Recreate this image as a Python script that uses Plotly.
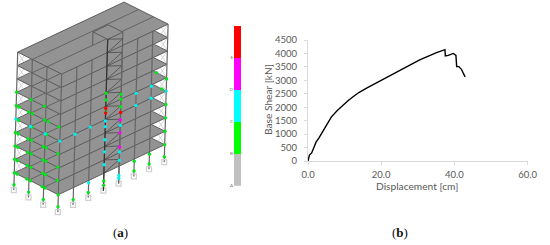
import plotly.graph_objects as go

# pushover curve
displacement = [0.0, 0.1, 0.2, 0.4, 1.0, 1.5, 2.2, 3.0, 4.1, 5.0, 6.4, 8.0, 9.6, 11.0, 12.3, 14.0, 16.0, 20.5, 26.0, 30.5, 35.1,
                37.1, 37.4, 37.5, 38.3, 39.7, 40.4, 40.6, 41.2, 41.9, 42.4, 42.9]
base_shear = [0, 50, 150, 220, 300, 450, 700, 860, 1130, 1340, 1640, 1880, 2090, 2250, 2390, 2555, 2710, 3040, 3450, 3760, 4030,
              4130, 4140, 3910, 3930, 4000, 3930, 3510, 3510, 3410, 3265, 3130]

# hinge state legend
legend_labels = ['A', 'B', 'C', 'D', 'E']
legend_colors = ['#c0c0c0', '#00ff00', '#00ffff', '#ff00ff', '#ff0000']

# frame: 3 bays one way, 7 the other, 10 floors
bays_u = [0, 1, 2, 3]
bays_v = [0, 1, 2, 3, 4, 5, 6, 7]
floors = [0, 1, 2, 3, 4, 5, 6, 7, 8, 9]
foot_level = -1.3
stair_bay = [3, 4]

# hinges as (u, v, level)
green_hinges = [
    (0, 0, 6), (1, 0, 6), (1.9, 0, 6),
    (0, 0, 5), (0.2, 0, 5), (0.85, 0, 5), (1.1, 0, 5), (1.95, 0, 5), (2.2, 0, 5), (2.9, 0, 5),
    (0.2, 0, 4), (1.1, 0, 4), (2.1, 0, 4),
    (0, 0, 3), (0.2, 0, 3), (0.85, 0, 3), (1.1, 0, 3), (1.9, 0, 3), (2.1, 0, 3), (2.9, 0, 3),
    (0, 0, 2), (0.2, 0, 2), (0.85, 0, 2), (1.1, 0, 2), (1.9, 0, 2), (2.1, 0, 2), (2.9, 0, 2),
    (0, 0, 1), (0.2, 0, 1), (0.85, 0, 1), (1.1, 0, 1), (1.9, 0, 1), (2.1, 0, 1), (2.9, 0, 1),
    (0, 0, 0), (0.2, 0, 0), (0.85, 0, 0), (1.1, 0, 0), (1.9, 0, 0), (2.1, 0, 0), (3, 0, 0),
    (3, 3, 5.97), (3, 3, 5.47), (3, 3, 4.55), (3, 3, -0.57),
    (3, 4, 5.36), (3, 4, 5), (3, 4, 4.43),
    (3, 5, -0.17), (3, 6, -0.18), (3, 7, 0), (3, 7, 1), (3, 7, 2), (3, 7, 3), (3, 7, 4.9), (2.3, 7, 5), (2.7, 7, 4),
    (0, 0, -0.9), (1, 0, -0.9), (2, 0, -0.9), (3, 0, -0.9), (3, 1, -0.9), (3, 2, -0.9), (3, 3, -0.9),
    (3, 5, -0.9), (3, 6, -0.9), (3, 7, -0.9),
]
cyan_hinges = [
    (0, 0, 4), (1, 0, 4), (2, 0, 4), (3, 0, 4),
    (3, 1, 3.98), (3, 2, 3.98), (3, 2, -0.17),
    (3, 3, 3.9), (3, 3, 3.48), (3, 3, 2.5), (3, 3, 1.6), (3, 3, 0.64),
    (3, 4, 3.05), (3, 4, 1.05), (3, 4, 0.43), (3, 4, -0.69), (3, 4, -0.9),
    (3, 5, 4), (3, 6, 4), (3, 7, 4), (3, 5, 4.9), (3, 6, 4.9),
]
magenta_hinges = [(3, 4, 3.44), (3, 4, 2.5), (3, 4, 1.43)]
red_hinges = [(3, 3, 4.85), (3, 3, 4.5), (3, 4, 4)]


def project(u, v, level):
    # parallel projection of the frame onto the page
    x = 14.3 + 14.67 * u + 15.2 * v + 0.377 * level
    y = 172.7 + 7.33 * u - 7.14 * v - 13.4 * level
    return x, y


def path(points, color, width, fill=None):
    xy = [project(*p) for p in points]
    return go.Scatter(x=[a for a, b in xy], y=[b for a, b in xy], mode='lines', xaxis='x2', yaxis='y2',
                      line=dict(color=color, width=width), fill='toself' if fill else None, fillcolor=fill,
                      hoverinfo='skip', showlegend=False)


def slab(level, fill='#939393'):
    return path([(0, 0, level), (3, 0, level), (3, 7, level), (0, 7, level), (0, 0, level)], '#555555', 0.9, fill)


def hinges(points, color, size=3.4):
    xy = [project(*p) for p in points]
    return go.Scatter(x=[a for a, b in xy], y=[b for a, b in xy], mode='markers', xaxis='x2', yaxis='y2',
                      marker=dict(color=color, size=size), hoverinfo='skip', showlegend=False)


face_columns = [(u, 0) for u in bays_u] + [(3, v) for v in bays_v[1:]]

fig = go.Figure()
fig.add_trace(go.Scatter(x=displacement, y=base_shear, mode='lines', line=dict(color='black', width=1.4),
                         showlegend=False))

# ground storey first, then floors from the bottom up so each one hides the one below
for u, v in face_columns:
    fig.add_trace(path([(u, v, foot_level), (u, v, 0)], '#666666', 1.2))
fig.add_trace(hinges([(u, v, foot_level) for u, v in face_columns], '#d0d0d0', 5))
fig.data[-1].marker.update(symbol='square-open', line=dict(width=1.2, color='#c4c4c4'))

for k in floors:
    fig.add_trace(slab(k))
    for u in bays_u[1:3]:
        fig.add_trace(path([(u, 0, k), (u, 7, k)], '#5c5c5c', 0.9))
    if k == floors[-1]:
        break
    # bracing in the two open corners
    for end in [(0, 0.45), (0, 0.9)]:
        fig.add_trace(path([(0, 0, k + 1), (end[0], end[1], k)], '#c4c4c4', 0.7))
    fig.add_trace(path([(0, 0, k), (0.45, 0, k + 1)], '#c4c4c4', 0.7))
    for end in [(2.55, 7), (2.1, 7)]:
        fig.add_trace(path([(3, 7, k + 1), (end[0], end[1], k)], '#c4c4c4', 0.7))
    fig.add_trace(path([(3, 7, k), (3, 6.55, k + 1)], '#c4c4c4', 0.7))
    for u, v in face_columns:
        fig.add_trace(path([(u, v, k), (u, v, k + 1)], '#666666', 1.2))

# stair core in front of the floors, one storey above the roof
top = floors[-1] + 1
fig.add_trace(path([(2, 3, top), (3, 3, top), (3, 4, top), (2, 4, top), (2, 3, top)], '#555555', 0.9, '#939393'))
for p in [(3, 3), (3, 4), (2, 3)]:
    fig.add_trace(path([(p[0], p[1], top), (p[0], p[1], top - 1)], '#555555', 0.9))
for k in floors:
    fig.add_trace(path([(3, stair_bay[0], k + 1), (3, stair_bay[1], k + 0.5), (3, stair_bay[0], k)], '#4a4a4a', 0.8))
fig.add_trace(path([(3, 3, foot_level), (3, 3, top)], '#333333', 1.2))
fig.add_trace(path([(3, 4, foot_level), (3, 4, top - 1)], '#666666', 1.2))

fig.add_trace(hinges(green_hinges, '#00e61a'))
fig.add_trace(hinges(cyan_hinges, '#00f0f0'))
fig.add_trace(hinges(magenta_hinges, '#ff00ff'))
fig.add_trace(hinges(red_hinges, '#ff0000'))

# hinge state colour bar
for label, color in zip(legend_labels, legend_colors):
    fig.add_trace(go.Bar(x=[1], y=[1], width=1, marker=dict(color=color, line_width=0), xaxis='x3', yaxis='y3',
                         hoverinfo='skip', showlegend=False, name=label))

font = 'Lato, sans-serif'
gray = '#595959'
axis_line = '#d9d9d9'
W, H = 550, 245

fig.update_layout(
    width=W, height=H, margin=dict(l=0, r=0, t=0, b=0), paper_bgcolor='white', plot_bgcolor='rgba(0,0,0,0)',
    barmode='stack', font=dict(family=font, color=gray),
    xaxis=dict(domain=[308 / W, 527.7 / W], range=[0, 60], tickvals=[0, 20, 40, 60], tickformat='.1f', automargin=False,
               showgrid=False, zeroline=False, showline=True, linecolor=axis_line, linewidth=1,
               ticks='outside', ticklen=3, tickcolor=axis_line, tickfont=dict(size=9.5), ticklabelstandoff=2),
    yaxis=dict(domain=[(H - 161) / H, (H - 40) / H], range=[0, 4500], dtick=500, automargin=False,
               showgrid=False, zeroline=False, showline=True, linecolor=axis_line, linewidth=1,
               ticks='outside', ticklen=3, tickcolor=axis_line, tickfont=dict(size=9.5), ticklabelstandoff=5),
    xaxis2=dict(domain=[0, 1], range=[0, W], visible=False, automargin=False),
    yaxis2=dict(domain=[0, 1], range=[H, 0], visible=False, anchor='x2', automargin=False),
    xaxis3=dict(domain=[234 / W, 241.3 / W], range=[0.5, 1.5], visible=False, anchor='y3', automargin=False),
    yaxis3=dict(domain=[(H - 185.7) / H, (H - 25.7) / H], range=[0, 5], anchor='x3', showgrid=False, zeroline=False,
                tickvals=[0, 1, 2, 3, 4], ticktext=legend_labels, ticks='', showline=False, automargin=False,
                tickfont=dict(size=4.5, color='#777777')),
    annotations=[
        dict(text='Displacement [cm]', x=417.5 / W, y=(H - 186) / H, xref='paper', yref='paper', showarrow=False,
             xanchor='center', yanchor='middle', font=dict(size=10.2, color=gray)),
        dict(text='Base Shear [kN]', x=268 / W, y=(H - 100) / H, xref='paper', yref='paper', showarrow=False,
             xanchor='center', yanchor='middle', textangle=-90, font=dict(size=10.2, color=gray)),
        dict(text='(<b>a</b>)', x=120 / W, y=(H - 232) / H, xref='paper', yref='paper', showarrow=False,
             xanchor='center', yanchor='middle', font=dict(family='Liberation Serif', size=13, color='#111111')),
        dict(text='(<b>b</b>)', x=400 / W, y=(H - 232) / H, xref='paper', yref='paper', showarrow=False,
             xanchor='center', yanchor='middle', font=dict(family='Liberation Serif', size=13, color='#111111')),
    ],
)

fig.write_html("out.html", config=dict(displayModeBar=False), post_script="document.body.style.margin='0'")
